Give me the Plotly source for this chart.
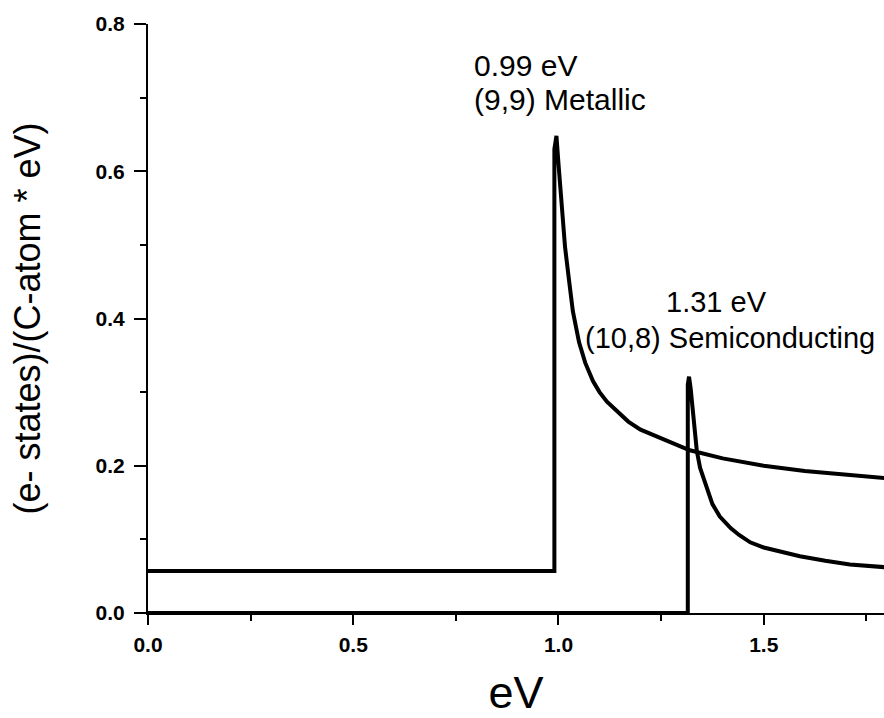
import plotly.graph_objects as go

# Data
metallic_x = [0.0, 0.99, 0.99, 0.995, 1.0, 1.005, 1.01, 1.016, 1.025, 1.035, 1.05, 1.065,
              1.084, 1.10, 1.118, 1.14, 1.17, 1.2, 1.25, 1.32, 1.4, 1.5, 1.6, 1.7, 1.8]
metallic_y = [0.057, 0.057, 0.63, 0.648, 0.61, 0.57, 0.535, 0.497, 0.455, 0.41, 0.368, 0.34,
              0.315, 0.30, 0.287, 0.275, 0.26, 0.249, 0.237, 0.221, 0.210, 0.200, 0.193, 0.188, 0.183]

semi_x = [0.0, 1.315, 1.315, 1.318, 1.322, 1.328, 1.337, 1.345, 1.355, 1.362, 1.375, 1.393,
          1.42, 1.44, 1.467, 1.50, 1.55, 1.588, 1.65, 1.71, 1.8]
semi_y = [0.0, 0.0, 0.31, 0.321, 0.305, 0.27, 0.22, 0.197, 0.18, 0.168, 0.148, 0.131,
          0.115, 0.106, 0.096, 0.089, 0.082, 0.077, 0.071, 0.066, 0.062]

x_ticks = [0.0, 0.5, 1.0, 1.5]
x_labels = ["0.0", "0.5", "1.0", "1.5"]
y_ticks = [0.0, 0.2, 0.4, 0.6, 0.8]
y_labels = ["0.0", "0.2", "0.4", "0.6", "0.8"]

labels = [
    {"x": 0.789, "y": 0.743, "text": "0.99 eV", "anchor": "left", "size": 30},
    {"x": 0.789, "y": 0.698, "text": "(9,9) Metallic", "anchor": "left", "size": 30},
    {"x": 1.386, "y": 0.422, "text": "1.31 eV", "anchor": "center", "size": 29},
    {"x": 1.418, "y": 0.374, "text": "(10,8) Semiconducting", "anchor": "center", "size": 29},
]

FONT = "Liberation Sans"
XR = [0.0, 1.793]
YR = [0.0, 0.8]
TICKFONT = dict(family=FONT, size=21, color="black", weight="bold")

fig = go.Figure()
fig.add_trace(go.Scatter(x=metallic_x, y=metallic_y, mode="lines",
                         line=dict(color="black", width=4), showlegend=False))
fig.add_trace(go.Scatter(x=semi_x, y=semi_y, mode="lines",
                         line=dict(color="black", width=4), showlegend=False))

for a in labels:
    fig.add_annotation(x=a["x"], y=a["y"], text=a["text"], showarrow=False,
                       xanchor=a["anchor"], yanchor="middle",
                       font=dict(family=FONT, size=a["size"], color="black"))

fig.update_layout(
    template="none",
    width=884, height=718,
    margin=dict(l=148, r=0, t=24, b=105, autoexpand=False),
    plot_bgcolor="white", paper_bgcolor="white",
    font=dict(family=FONT, size=21, color="black"),
    showlegend=False,
    xaxis=dict(range=XR, tickvals=x_ticks, ticktext=x_labels,
               ticks="outside", ticklen=10, tickwidth=2, tickcolor="black",
               minor=dict(dtick=0.25, tick0=0, ticks="outside", ticklen=6, tickwidth=2, tickcolor="black"),
               showline=True, linewidth=2, linecolor="black", showgrid=False, zeroline=False,
               automargin=False, tickfont=TICKFONT, ticklabelstandoff=2,
               title=dict(text="eV", font=dict(family=FONT, size=45, color="black"))),
    yaxis=dict(range=YR, tickvals=y_ticks, ticktext=y_labels,
               ticks="outside", ticklen=12, tickwidth=2, tickcolor="black",
               minor=dict(dtick=0.1, tick0=0, ticks="outside", ticklen=6, tickwidth=2, tickcolor="black"),
               showline=True, linewidth=2, linecolor="black", showgrid=False, zeroline=False,
               automargin=False, tickfont=TICKFONT, ticklabelstandoff=5,
               title=dict(text="(e- states)/(C-atom * eV)", standoff=44,
                          font=dict(family=FONT, size=36, color="black"))),
    xaxis2=dict(range=XR, overlaying="x", side="top", anchor="y",
                tickvals=x_ticks, ticks="inside", ticklen=10, tickwidth=2, tickcolor="black",
                minor=dict(dtick=0.25, tick0=0, ticks="inside", ticklen=6, tickwidth=2, tickcolor="black"),
                showticklabels=False, showline=True, linewidth=2, linecolor="black",
                showgrid=False, zeroline=False, automargin=False),
    yaxis2=dict(range=YR, overlaying="y", side="right", anchor="x",
                tickvals=y_ticks, ticks="inside", ticklen=10, tickwidth=2, tickcolor="black",
                minor=dict(dtick=0.1, tick0=0, ticks="inside", ticklen=6, tickwidth=2, tickcolor="black"),
                showticklabels=False, showline=False,
                showgrid=False, zeroline=False, automargin=False),
)

fig.write_html("out.html", config={"displayModeBar": False},
               post_script="document.body.style.margin='0';document.body.style.overflow='hidden';")
